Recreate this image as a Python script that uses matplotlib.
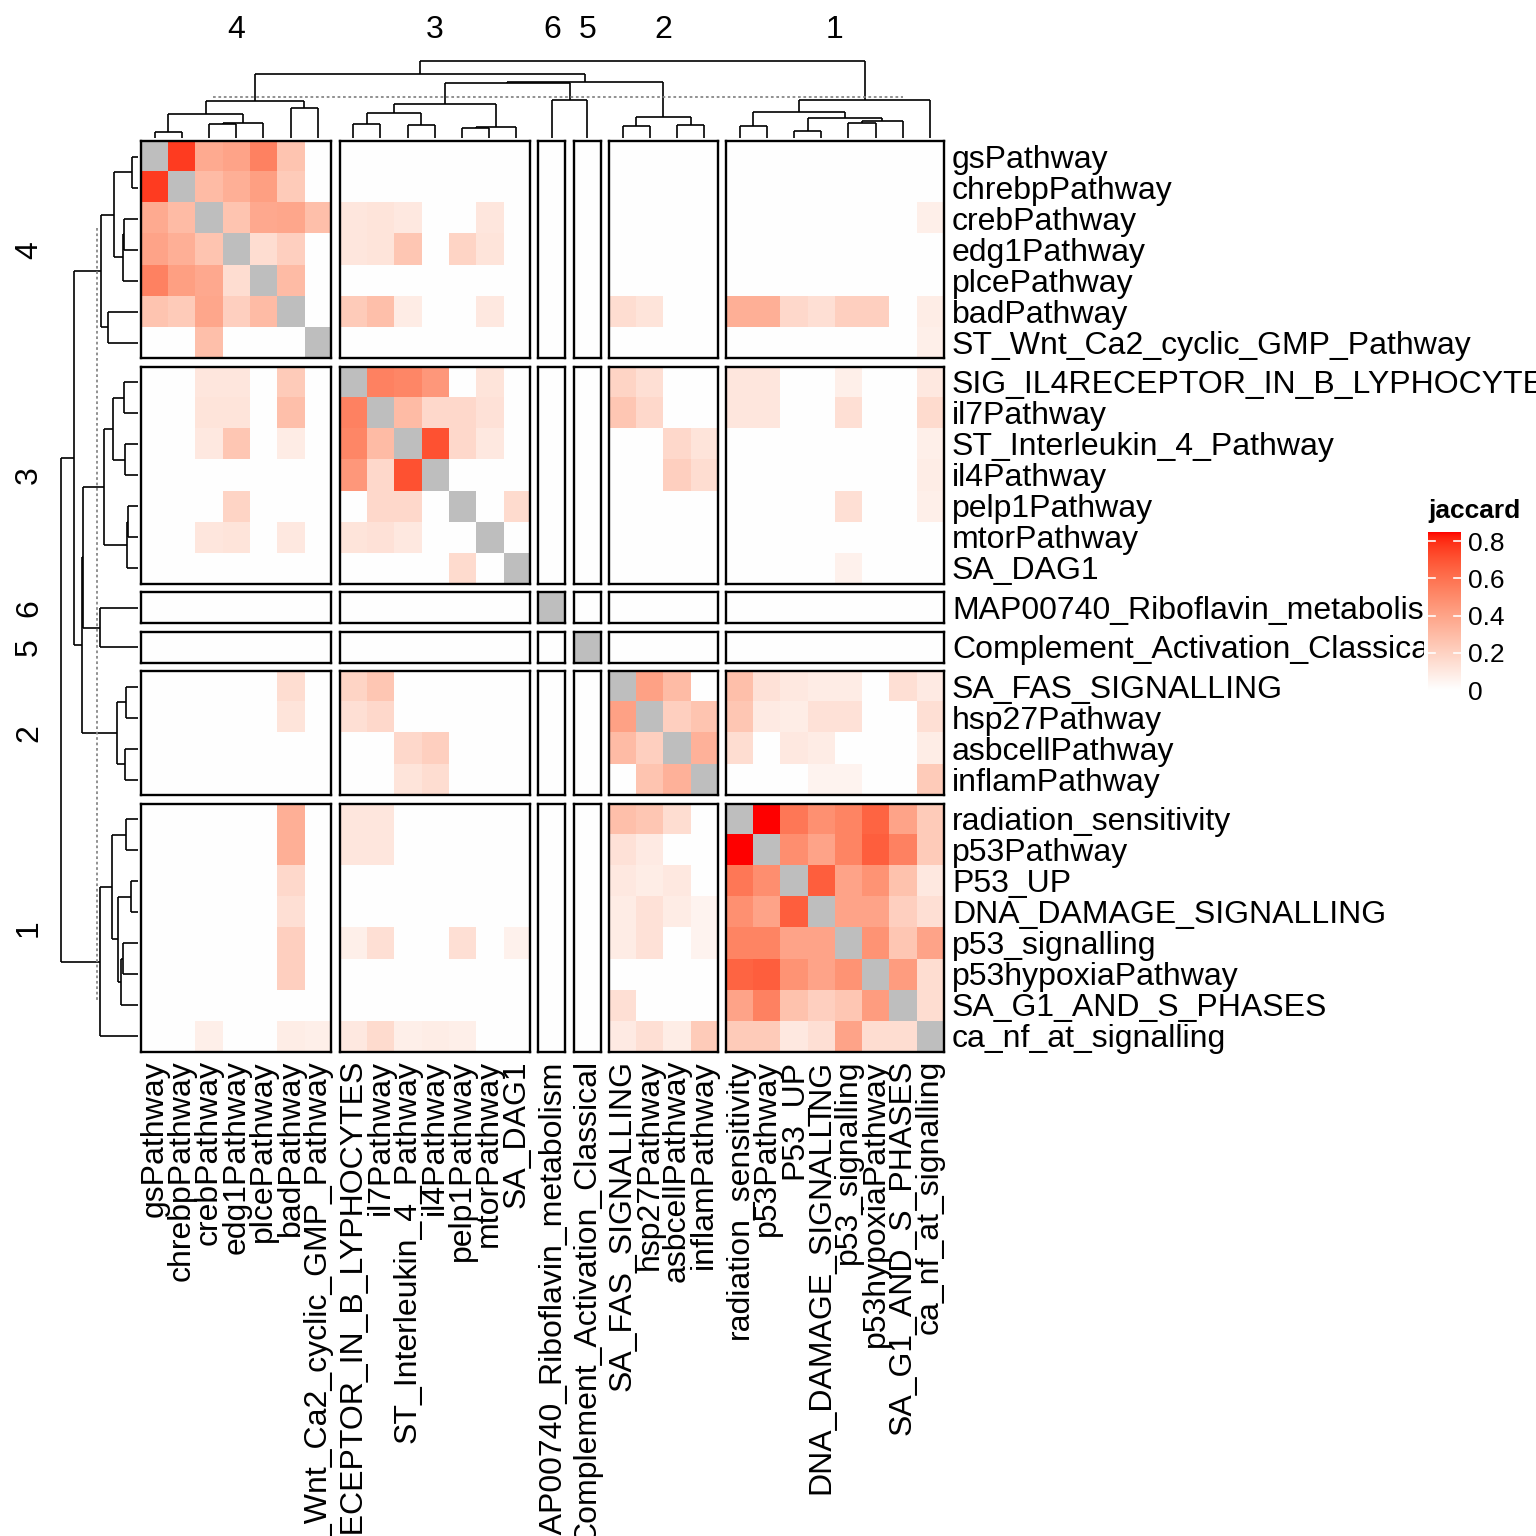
import numpy as np
import matplotlib
matplotlib.use("Agg")
import matplotlib.pyplot as plt
from matplotlib.colors import ListedColormap

plt.rcParams["font.family"] = ["Liberation Sans", "DejaVu Sans"]

# pathway groups (slice order left->right / top->bottom)
pathways_4 = ["gsPathway", "chrebpPathway", "crebPathway", "edg1Pathway",
              "plcePathway", "badPathway", "ST_Wnt_Ca2_cyclic_GMP_Pathway"]
pathways_3 = ["SIG_IL4RECEPTOR_IN_B_LYPHOCYTES", "il7Pathway", "ST_Interleukin_4_Pathway",
              "il4Pathway", "pelp1Pathway", "mtorPathway", "SA_DAG1"]
pathways_6 = ["MAP00740_Riboflavin_metabolism"]
pathways_5 = ["Complement_Activation_Classical"]
pathways_2 = ["SA_FAS_SIGNALLING", "hsp27Pathway", "asbcellPathway", "inflamPathway"]
pathways_1 = ["radiation_sensitivity", "p53Pathway", "P53_UP", "DNA_DAMAGE_SIGNALLING",
              "p53_signalling", "p53hypoxiaPathway", "SA_G1_AND_S_PHASES", "ca_nf_at_signalling"]
group_names = ["4", "3", "6", "5", "2", "1"]

# jaccard index for each non-zero pair (matrix is symmetric)
jac_4_4 = [
    ("gsPathway", "chrebpPathway", 0.77), ("gsPathway", "crebPathway", 0.37),
    ("gsPathway", "edg1Pathway", 0.40), ("gsPathway", "plcePathway", 0.54),
    ("gsPathway", "badPathway", 0.26), ("chrebpPathway", "crebPathway", 0.30),
    ("chrebpPathway", "edg1Pathway", 0.35), ("chrebpPathway", "plcePathway", 0.42),
    ("chrebpPathway", "badPathway", 0.23), ("crebPathway", "edg1Pathway", 0.26),
    ("crebPathway", "plcePathway", 0.38), ("crebPathway", "badPathway", 0.39),
    ("crebPathway", "ST_Wnt_Ca2_cyclic_GMP_Pathway", 0.28), ("edg1Pathway", "plcePathway", 0.15),
    ("edg1Pathway", "badPathway", 0.21), ("plcePathway", "badPathway", 0.30),
]
jac_4_other = [
    ("crebPathway", "SIG_IL4RECEPTOR_IN_B_LYPHOCYTES", 0.11), ("crebPathway", "il7Pathway", 0.12),
    ("crebPathway", "ST_Interleukin_4_Pathway", 0.10), ("crebPathway", "mtorPathway", 0.11),
    ("edg1Pathway", "SIG_IL4RECEPTOR_IN_B_LYPHOCYTES", 0.11), ("edg1Pathway", "il7Pathway", 0.12),
    ("edg1Pathway", "ST_Interleukin_4_Pathway", 0.25), ("edg1Pathway", "pelp1Pathway", 0.19),
    ("edg1Pathway", "mtorPathway", 0.12),
    ("badPathway", "SIG_IL4RECEPTOR_IN_B_LYPHOCYTES", 0.23), ("badPathway", "il7Pathway", 0.28),
    ("badPathway", "ST_Interleukin_4_Pathway", 0.085), ("badPathway", "mtorPathway", 0.10),
    ("badPathway", "SA_FAS_SIGNALLING", 0.15), ("badPathway", "hsp27Pathway", 0.12),
    ("badPathway", "radiation_sensitivity", 0.35), ("badPathway", "p53Pathway", 0.35),
    ("badPathway", "P53_UP", 0.17), ("badPathway", "DNA_DAMAGE_SIGNALLING", 0.14),
    ("badPathway", "p53_signalling", 0.21), ("badPathway", "p53hypoxiaPathway", 0.21),
    ("badPathway", "ca_nf_at_signalling", 0.08), ("crebPathway", "ca_nf_at_signalling", 0.07),
    ("ST_Wnt_Ca2_cyclic_GMP_Pathway", "ca_nf_at_signalling", 0.07),
]
jac_3_3 = [
    ("SIG_IL4RECEPTOR_IN_B_LYPHOCYTES", "il7Pathway", 0.54),
    ("SIG_IL4RECEPTOR_IN_B_LYPHOCYTES", "ST_Interleukin_4_Pathway", 0.52),
    ("SIG_IL4RECEPTOR_IN_B_LYPHOCYTES", "il4Pathway", 0.45),
    ("SIG_IL4RECEPTOR_IN_B_LYPHOCYTES", "mtorPathway", 0.12),
    ("il7Pathway", "ST_Interleukin_4_Pathway", 0.30), ("il7Pathway", "il4Pathway", 0.17),
    ("il7Pathway", "pelp1Pathway", 0.17), ("il7Pathway", "mtorPathway", 0.13),
    ("ST_Interleukin_4_Pathway", "il4Pathway", 0.71), ("ST_Interleukin_4_Pathway", "pelp1Pathway", 0.17),
    ("ST_Interleukin_4_Pathway", "mtorPathway", 0.10), ("pelp1Pathway", "SA_DAG1", 0.16),
]
jac_3_other = [
    ("SIG_IL4RECEPTOR_IN_B_LYPHOCYTES", "SA_FAS_SIGNALLING", 0.19),
    ("SIG_IL4RECEPTOR_IN_B_LYPHOCYTES", "hsp27Pathway", 0.14),
    ("il7Pathway", "SA_FAS_SIGNALLING", 0.25), ("il7Pathway", "hsp27Pathway", 0.17),
    ("ST_Interleukin_4_Pathway", "asbcellPathway", 0.17), ("ST_Interleukin_4_Pathway", "inflamPathway", 0.12),
    ("il4Pathway", "asbcellPathway", 0.21), ("il4Pathway", "inflamPathway", 0.15),
    ("SIG_IL4RECEPTOR_IN_B_LYPHOCYTES", "radiation_sensitivity", 0.11),
    ("SIG_IL4RECEPTOR_IN_B_LYPHOCYTES", "p53Pathway", 0.11),
    ("SIG_IL4RECEPTOR_IN_B_LYPHOCYTES", "p53_signalling", 0.07),
    ("SIG_IL4RECEPTOR_IN_B_LYPHOCYTES", "ca_nf_at_signalling", 0.10),
    ("il7Pathway", "radiation_sensitivity", 0.11), ("il7Pathway", "p53Pathway", 0.11),
    ("il7Pathway", "p53_signalling", 0.14), ("il7Pathway", "ca_nf_at_signalling", 0.16),
    ("ST_Interleukin_4_Pathway", "ca_nf_at_signalling", 0.07), ("il4Pathway", "ca_nf_at_signalling", 0.08),
    ("pelp1Pathway", "p53_signalling", 0.14), ("pelp1Pathway", "ca_nf_at_signalling", 0.07),
    ("SA_DAG1", "p53_signalling", 0.06),
]
jac_2_2 = [
    ("SA_FAS_SIGNALLING", "hsp27Pathway", 0.41), ("SA_FAS_SIGNALLING", "asbcellPathway", 0.30),
    ("hsp27Pathway", "asbcellPathway", 0.21), ("hsp27Pathway", "inflamPathway", 0.26),
    ("asbcellPathway", "inflamPathway", 0.34),
]
jac_2_1 = [
    ("SA_FAS_SIGNALLING", "radiation_sensitivity", 0.28), ("SA_FAS_SIGNALLING", "p53Pathway", 0.13),
    ("SA_FAS_SIGNALLING", "P53_UP", 0.10), ("SA_FAS_SIGNALLING", "DNA_DAMAGE_SIGNALLING", 0.085),
    ("SA_FAS_SIGNALLING", "p53_signalling", 0.085), ("SA_FAS_SIGNALLING", "SA_G1_AND_S_PHASES", 0.14),
    ("SA_FAS_SIGNALLING", "ca_nf_at_signalling", 0.09),
    ("hsp27Pathway", "radiation_sensitivity", 0.25), ("hsp27Pathway", "p53Pathway", 0.09),
    ("hsp27Pathway", "P53_UP", 0.08), ("hsp27Pathway", "DNA_DAMAGE_SIGNALLING", 0.13),
    ("hsp27Pathway", "p53_signalling", 0.13), ("hsp27Pathway", "ca_nf_at_signalling", 0.14),
    ("asbcellPathway", "radiation_sensitivity", 0.15), ("asbcellPathway", "P53_UP", 0.10),
    ("asbcellPathway", "DNA_DAMAGE_SIGNALLING", 0.085), ("asbcellPathway", "ca_nf_at_signalling", 0.08),
    ("inflamPathway", "DNA_DAMAGE_SIGNALLING", 0.05), ("inflamPathway", "p53_signalling", 0.05),
    ("inflamPathway", "ca_nf_at_signalling", 0.23),
]
jac_1_1 = [
    ("radiation_sensitivity", "p53Pathway", 0.85), ("radiation_sensitivity", "P53_UP", 0.58),
    ("radiation_sensitivity", "DNA_DAMAGE_SIGNALLING", 0.48), ("radiation_sensitivity", "p53_signalling", 0.53),
    ("radiation_sensitivity", "p53hypoxiaPathway", 0.65), ("radiation_sensitivity", "SA_G1_AND_S_PHASES", 0.40),
    ("radiation_sensitivity", "ca_nf_at_signalling", 0.23),
    ("p53Pathway", "P53_UP", 0.49), ("p53Pathway", "DNA_DAMAGE_SIGNALLING", 0.40),
    ("p53Pathway", "p53_signalling", 0.53), ("p53Pathway", "p53hypoxiaPathway", 0.67),
    ("p53Pathway", "SA_G1_AND_S_PHASES", 0.54), ("p53Pathway", "ca_nf_at_signalling", 0.23),
    ("P53_UP", "DNA_DAMAGE_SIGNALLING", 0.67), ("P53_UP", "p53_signalling", 0.40),
    ("P53_UP", "p53hypoxiaPathway", 0.47), ("P53_UP", "SA_G1_AND_S_PHASES", 0.27),
    ("P53_UP", "ca_nf_at_signalling", 0.10),
    ("DNA_DAMAGE_SIGNALLING", "p53_signalling", 0.40), ("DNA_DAMAGE_SIGNALLING", "p53hypoxiaPathway", 0.40),
    ("DNA_DAMAGE_SIGNALLING", "SA_G1_AND_S_PHASES", 0.21), ("DNA_DAMAGE_SIGNALLING", "ca_nf_at_signalling", 0.14),
    ("p53_signalling", "p53hypoxiaPathway", 0.47), ("p53_signalling", "SA_G1_AND_S_PHASES", 0.25),
    ("p53_signalling", "ca_nf_at_signalling", 0.40),
    ("p53hypoxiaPathway", "SA_G1_AND_S_PHASES", 0.43), ("p53hypoxiaPathway", "ca_nf_at_signalling", 0.15),
    ("SA_G1_AND_S_PHASES", "ca_nf_at_signalling", 0.15),
]

# dendrogram: (left, right, merge height); heights relative to the root = 1
tree_4 = ((("gsPathway", "chrebpPathway", 0.08),
           (("crebPathway", "edg1Pathway", 0.18), "plcePathway", 0.195), 0.31),
          ("badPathway", "ST_Wnt_Ca2_cyclic_GMP_Pathway", 0.39), 0.48)
tree_3 = ((("SIG_IL4RECEPTOR_IN_B_LYPHOCYTES", "il7Pathway", 0.18),
           ("ST_Interleukin_4_Pathway", "il4Pathway", 0.17), 0.325),
          (("pelp1Pathway", "mtorPathway", 0.13), "SA_DAG1", 0.143), 0.44)
tree_65 = ("MAP00740_Riboflavin_metabolism", "Complement_Activation_Classical", 0.494)
tree_2 = (("SA_FAS_SIGNALLING", "hsp27Pathway", 0.156), ("asbcellPathway", "inflamPathway", 0.169), 0.273)
tree_1 = ((("radiation_sensitivity", "p53Pathway", 0.156),
           (("P53_UP", "DNA_DAMAGE_SIGNALLING", 0.09),
            (("p53_signalling", "p53hypoxiaPathway", 0.195), "SA_G1_AND_S_PHASES", 0.22), 0.26), 0.34),
          "ca_nf_at_signalling", 0.494)
tree_all = ((tree_4, ((tree_3, tree_65, 0.71), tree_2, 0.727), 0.831), tree_1, 1.0)
cut_height = 0.53

VMAX = 0.85
W = H = 1536


def lab_ramp(n=256):
    # white -> red interpolated in CIE Lab
    t = np.linspace(0, 1, n)
    L = 100 + (53.24 - 100) * t
    a = 80.09 * t
    b = 67.20 * t
    fy = (L + 16) / 116
    fx = fy + a / 500
    fz = fy - b / 200
    finv = lambda f: np.where(f ** 3 > 0.008856, f ** 3, (f - 16 / 116) / 7.787)
    X, Y, Z = 0.95047 * finv(fx), finv(fy), 1.08883 * finv(fz)
    r = 3.2406 * X - 1.5372 * Y - 0.4986 * Z
    g = -0.9689 * X + 1.8758 * Y + 0.0415 * Z
    bb = 0.0557 * X - 0.2040 * Y + 1.0570 * Z
    rgb = np.clip(np.stack([r, g, bb], 1), 0, 1)
    rgb = np.where(rgb <= 0.0031308, 12.92 * rgb, 1.055 * rgb ** (1 / 2.4) - 0.055)
    return np.clip(rgb, 0, 1)


cmap = ListedColormap(lab_ramp())
cmap.set_bad("#bebebe")

groups = [pathways_4, pathways_3, pathways_6, pathways_5, pathways_2, pathways_1]
names = sum(groups, [])
idx = {n: i for i, n in enumerate(names)}
mat = np.zeros((len(names), len(names)))
for pairs in [jac_4_4, jac_4_other, jac_3_3, jac_3_other, jac_2_2, jac_2_1, jac_1_1]:
    for p, q, v in pairs:
        mat[idx[p], idx[q]] = v
        mat[idx[q], idx[p]] = v
np.fill_diagonal(mat, np.nan)

fig = plt.figure(figsize=(15.36, 15.36), dpi=100)


def box(x0, y0, x1, y1):
    return [x0 / W, 1 - y1 / H, (x1 - x0) / W, (y1 - y0) / H]


# layout in pixels
CELL_W, COL_GAP, X0 = 27.2, 8.2, 141
CELL_H, ROW_GAP, Y0 = 31.05, 8.3, 141
col_spans, row_spans = [], []
leaf_x, leaf_y = {}, {}
x, y = X0, Y0
for g in groups:
    col_spans.append((x, x + len(g) * CELL_W))
    row_spans.append((y, y + len(g) * CELL_H))
    for k, n in enumerate(g):
        leaf_x[n] = x + (k + 0.5) * CELL_W
        leaf_y[n] = y + (k + 0.5) * CELL_H
    x += len(g) * CELL_W + COL_GAP
    y += len(g) * CELL_H + ROW_GAP

# heatmap slices
for gi, rg in enumerate(groups):
    for gj, cg in enumerate(groups):
        x0, x1 = col_spans[gj]
        y0, y1 = row_spans[gi]
        ax = fig.add_axes(box(x0, y0, x1, y1))
        sub = mat[np.ix_([idx[n] for n in rg], [idx[n] for n in cg])]
        ax.imshow(sub, cmap=cmap, vmin=0, vmax=VMAX, aspect="auto", interpolation="nearest")
        ax.set_xticks([])
        ax.set_yticks([])
        for s in ax.spines.values():
            s.set_linewidth(1.7)
            s.set_color("black")

# labels
FS = 23
for n in names:
    fig.text(952 / W, 1 - (leaf_y[n] + 3) / H, n, fontsize=FS, ha="left", va="center")
    fig.text(leaf_x[n] / W, 1 - 1060 / H, n, fontsize=FS, rotation=90, ha="center", va="top")
for g, name, (cx0, cx1), (ry0, ry1) in zip(groups, group_names, col_spans, row_spans):
    fig.text((cx0 + cx1) / 2 / W, 1 - 30 / H, name, fontsize=FS, ha="center", va="center")
    fig.text(29 / W, 1 - (ry0 + ry1) / 2 / H, name, fontsize=FS, rotation=90, ha="center", va="center")

# dendrograms
axd = fig.add_axes([0, 0, 1, 1], zorder=-1)
axd.set_xlim(0, W)
axd.set_ylim(H, 0)
axd.axis("off")
BASE, SPAN = 138, 77


def draw_tree(node, pos, to_xy):
    if isinstance(node, str):
        return pos[node], 0.0
    left, right, h = node
    lp, lh = draw_tree(left, pos, to_xy)
    rp, rh = draw_tree(right, pos, to_xy)
    for (p0, h0), (p1, h1) in [((lp, lh), (lp, h)), ((rp, rh), (rp, h)), ((lp, h), (rp, h))]:
        xa, ya = to_xy(p0, h0)
        xb, yb = to_xy(p1, h1)
        axd.plot([xa, xb], [ya, yb], color="black", lw=1.2, solid_capstyle="butt")
    return (lp + rp) / 2, h


draw_tree(tree_all, leaf_x, lambda p, h: (p, BASE - h * SPAN))
draw_tree(tree_all, leaf_y, lambda p, h: (BASE - h * SPAN, p))
cut = BASE - cut_height * SPAN
axd.plot([213, 903], [cut, cut], color="#888888", lw=1.3, ls=(0, (1.5, 1.5)))
axd.plot([cut, cut], [228, 1002], color="#888888", lw=1.3, ls=(0, (1.5, 1.5)))

# legend
axbg = fig.add_axes(box(1424, 490, 1536, 708), zorder=10)
axbg.set_facecolor("white")
axbg.set_xticks([])
axbg.set_yticks([])
for s in axbg.spines.values():
    s.set_visible(False)
fig.text(1428 / W, 1 - 511 / H, "jaccard", fontsize=19, fontweight="bold",
         ha="left", va="center", zorder=12)
axc = fig.add_axes(box(1428, 532, 1461, 690), zorder=11)
grad = np.linspace(0, VMAX, 256)[:, None]
axc.imshow(grad, cmap=cmap, vmin=0, vmax=VMAX, aspect="auto", origin="lower",
           extent=[0, 1, 0, VMAX])
ticks = [0, 0.2, 0.4, 0.6, 0.8]
for v in ticks[1:]:
    axc.plot([0, 0.2], [v, v], color="white", lw=1.2)
    axc.plot([0.8, 1], [v, v], color="white", lw=1.2)
axc.set_xlim(0, 1)
axc.set_ylim(0, VMAX)
axc.set_xticks([])
axc.yaxis.tick_right()
axc.set_yticks(ticks)
axc.set_yticklabels(["0", "0.2", "0.4", "0.6", "0.8"], fontsize=19)
axc.tick_params(axis="y", length=0, pad=5)
for s in axc.spines.values():
    s.set_visible(False)

fig.savefig("out.png", dpi=100)
